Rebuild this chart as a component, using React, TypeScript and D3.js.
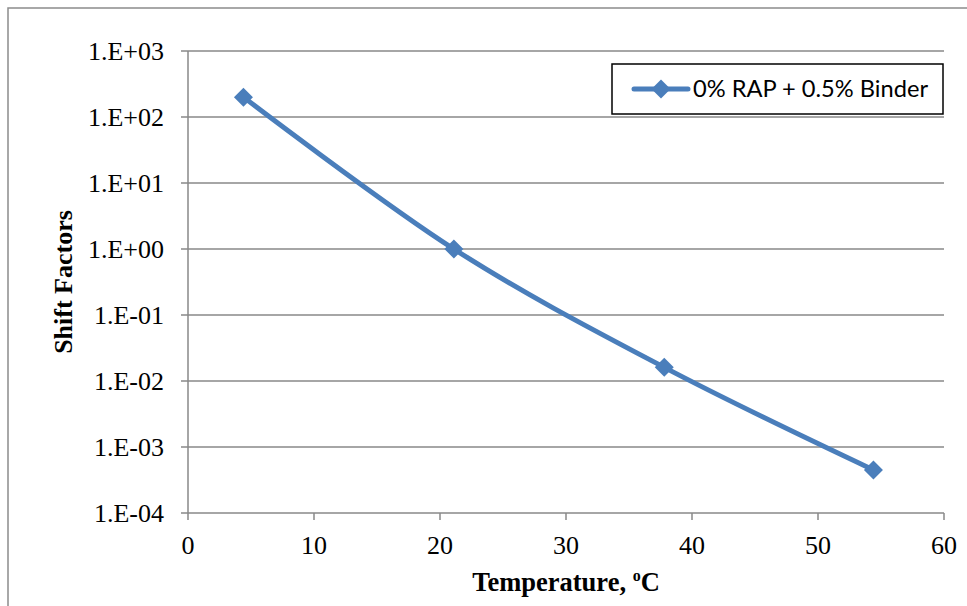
import React from "react";
import * as d3 from "d3";

const WIDTH = 967;
const HEIGHT = 606;

// chart values
const temperatures = [4.4, 21.1, 37.8, 54.4];
const shiftFactors = [200, 1.0, 0.0161, 0.00045];
const seriesName = "0% RAP + 0.5% Binder";
const xTicks = [0, 10, 20, 30, 40, 50, 60];
const yTicks = [1e3, 1e2, 1e1, 1e0, 1e-1, 1e-2, 1e-3, 1e-4];

const margin = { left: 188, right: 23, top: 51, bottom: 93 };
const LINE_COLOR = "#4a7ebb";
const GRID_COLOR = "#888888";

// Excel style labels: 1.E+03
function sciLabel(v: number) {
  const exp = Math.round(Math.log10(v));
  const sign = exp < 0 ? "-" : "+";
  return `1.E${sign}${String(Math.abs(exp)).padStart(2, "0")}`;
}

function diamondPath(r: number) {
  return `M0,${-r}L${r},0L0,${r}L${-r},0Z`;
}

export default function App() {
  const x = d3
    .scaleLinear()
    .domain([0, 60])
    .range([margin.left, WIDTH - margin.right]);
  const y = d3
    .scaleLog()
    .domain([1e-4, 1e3])
    .range([HEIGHT - margin.bottom, margin.top]);

  const points = temperatures.map((t, i) => [x(t), y(shiftFactors[i])] as [number, number]);
  const line = d3.line().curve(d3.curveCardinal.tension(0))(points) || "";

  const x0 = x.range()[0];
  const x1 = x.range()[1];
  const yBottom = y.range()[0];
  const yTop = y.range()[1];
  const serif = "'Liberation Serif', 'Times New Roman', serif";

  return (
    <svg
      width={WIDTH}
      height={HEIGHT}
      style={{ position: "absolute", left: 0, top: 0, background: "#fff" }}
    >
      {/* outer chart border */}
      <rect x={8} y={8} width={WIDTH} height={HEIGHT} fill="none" stroke="#8c8c8c" strokeWidth={1.5} />

      {/* horizontal gridlines + y ticks */}
      {yTicks.map((v) => (
        <g key={v}>
          <line x1={x0 - 7} x2={x1} y1={y(v)} y2={y(v)} stroke={GRID_COLOR} strokeWidth={1.5} />
          <text
            x={x0 - 24}
            y={y(v) + 9}
            textAnchor="end"
            style={{ fontFamily: serif, fontSize: 26, fill: "#000" }}
          >
            {sciLabel(v)}
          </text>
        </g>
      ))}

      {/* axes */}
      <line x1={x0} x2={x0} y1={yTop} y2={yBottom} stroke={GRID_COLOR} strokeWidth={1.5} />
      {xTicks.map((t) => (
        <g key={t}>
          <line x1={x(t)} x2={x(t)} y1={yBottom} y2={yBottom + 7} stroke={GRID_COLOR} strokeWidth={1.5} />
          <text
            x={x(t)}
            y={yBottom + 41}
            textAnchor="middle"
            style={{ fontFamily: serif, fontSize: 26, fill: "#000" }}
          >
            {t}
          </text>
        </g>
      ))}

      {/* series */}
      <path d={line} fill="none" stroke={LINE_COLOR} strokeWidth={5} strokeLinejoin="round" />
      {points.map(([px, py], i) => (
        <path key={i} d={diamondPath(9.5)} transform={`translate(${px},${py})`} fill={LINE_COLOR} />
      ))}

      {/* axis titles */}
      <text
        x={(x0 + x1) / 2}
        y={591}
        textAnchor="middle"
        style={{ fontFamily: serif, fontSize: 26.5, fontWeight: "bold", fill: "#000" }}
      >
        Temperature,{" "}
        <tspan fontSize={16} dy={-10}>
          o
        </tspan>
        <tspan dy={10}>C</tspan>
      </text>
      <text
        transform={`translate(72, ${(yTop + yBottom) / 2}) rotate(-90)`}
        textAnchor="middle"
        style={{ fontFamily: serif, fontSize: 26, fontWeight: "bold", fill: "#000" }}
      >
        Shift Factors
      </text>

      {/* legend */}
      <g>
        <rect x={612} y={64} width={331} height={50} fill="#fff" stroke="#000" strokeWidth={1.5} />
        <line x1={634} x2={688} y1={89} y2={89} stroke={LINE_COLOR} strokeWidth={5} strokeLinecap="round" />
        <path d={diamondPath(9.5)} transform="translate(661,89)" fill={LINE_COLOR} />
        <text
          x={693}
          y={97}
          textLength={235}
          lengthAdjust="spacingAndGlyphs"
          style={{ fontFamily: "Lato, 'Open Sans', sans-serif", fontSize: 23, fill: "#000" }}
        >
          {seriesName}
        </text>
      </g>
    </svg>
  );
}
